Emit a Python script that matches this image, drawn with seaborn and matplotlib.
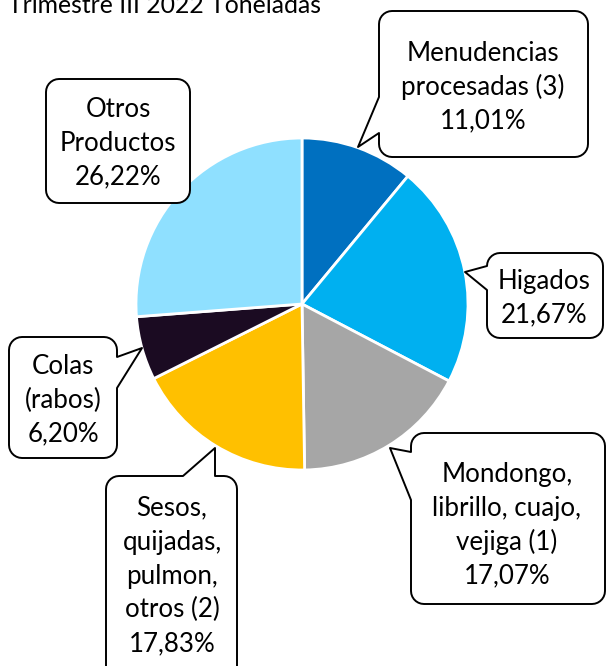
import numpy as np
import matplotlib
matplotlib.use("Agg")
import matplotlib.pyplot as plt
from matplotlib.patches import Polygon
import seaborn as sns

# ---------------- data ----------------
title = "Trimestre III 2022 Toneladas"
categories = [
    "Menudencias\nprocesadas (3)",
    "Higados",
    "Mondongo,\nlibrillo, cuajo,\nvejiga (1)",
    "Sesos,\nquijadas,\npulmon,\notros (2)",
    "Colas\n(rabos)",
    "Otros\nProductos",
]
values = [11.01, 21.67, 17.07, 17.83, 6.20, 26.22]
colors = ["#0070C0", "#00B0F0", "#A6A6A6", "#FFC000", "#1B0B22", "#8FE0FF"]

# ---------------- layout (pixel coordinates, y measured from top) ----------------
W, H = 606, 666
pie_center = (302, 304)
pie_radius = 166
# box: (x0, ytop, x1, ybottom), pointer: (side, base_a, base_b, tipx, tipy), first line centre (x, y)
boxes = [
    ((379, 11, 588, 157), ("left", 97, 133, 358, 147), (483, 52)),
    ((487, 253, 603, 338), ("left", 266, 290, 465, 272), (544, 280)),
    ((411, 433, 605, 604), ("left", 452, 500, 390, 448), (507, 473)),
    ((106, 476, 237, 690), ("top", 183, 215, 215, 448), (172, 507)),
    ((9, 337, 117, 458), ("right", 357, 388, 142, 348), (63, 365)),
    ((46, 79, 190, 203), None, (118, 108)),
]
line_step = 33.9

sns.set_theme(style="white")
plt.rcParams["font.family"] = ["Lato", "DejaVu Sans"]

fig = plt.figure(figsize=(W / 100, H / 100), dpi=100)
ax = fig.add_axes([0, 0, 1, 1])

def Y(y):
    return H - y

ax.pie(values, colors=sns.color_palette(colors), startangle=90, counterclock=False,
       center=(pie_center[0], Y(pie_center[1])), radius=pie_radius,
       wedgeprops=dict(edgecolor="white", linewidth=2.0))

ax.set_xlim(0, W)
ax.set_ylim(0, H)
ax.set_aspect("equal")
ax.axis("off")


def arc(cx, cy, r, a0, a1, n=8):
    t = np.linspace(np.radians(a0), np.radians(a1), n)
    return [(cx + r * np.cos(tt), cy + r * np.sin(tt)) for tt in t]


def callout(box, pointer, r=13):
    x0, yt, x1, yb = box
    top, bot = Y(yt), Y(yb)
    pts = []
    pts += arc(x0 + r, bot + r, r, 180, 270)
    pts += arc(x1 - r, bot + r, r, 270, 360)
    if pointer and pointer[0] == "right":
        _, a, b, tx, ty = pointer
        pts += [(x1, Y(b)), (tx, Y(ty)), (x1, Y(a))]
    pts += arc(x1 - r, top - r, r, 0, 90)
    if pointer and pointer[0] == "top":
        _, a, b, tx, ty = pointer
        pts += [(b, top), (tx, Y(ty)), (a, top)]
    pts += arc(x0 + r, top - r, r, 90, 180)
    if pointer and pointer[0] == "left":
        _, a, b, tx, ty = pointer
        pts += [(x0, Y(a)), (tx, Y(ty)), (x0, Y(b))]
    poly = Polygon(pts, closed=True, facecolor="white", edgecolor="black",
                   linewidth=1.4, joinstyle="round", zorder=5)
    ax.add_patch(poly)


for (box, pointer, (cx, cy)), name, v in zip(boxes, categories, values):
    callout(box, pointer)
    lines = name.split("\n") + [f"{v:.2f}".replace(".", ",") + "%"]
    for i, ln in enumerate(lines):
        ax.text(cx, Y(cy + i * line_step + 8.8), ln, ha="center", va="baseline",
                fontsize=18.6, color="black", zorder=6)

ax.text(8, Y(13), title, ha="left", va="baseline", fontsize=17.8, color="black", zorder=6)

fig.savefig("out.png", dpi=100)
